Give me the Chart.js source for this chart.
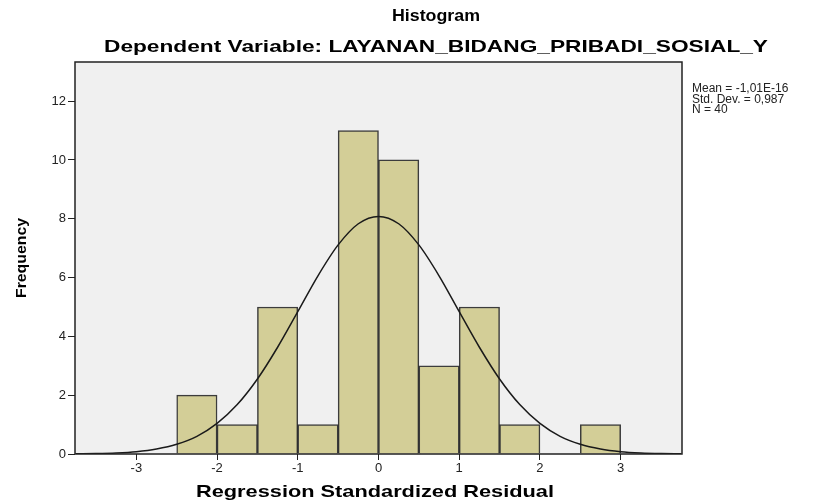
<!DOCTYPE html>
<html>
<head>
<meta charset="utf-8">
<script src="https://cdn.jsdelivr.net/npm/chart.js@4"></script>
<style>
  html, body { margin: 0; padding: 0; background: #fff; }
  #wrap { width: 818px; height: 504px; }
</style>
</head>
<body>
<div id="wrap"><canvas id="hist" width="818" height="504"></canvas></div>
<script>
// data
const binCenters = [-2.25, -1.75, -1.25, -0.75, -0.25, 0.25, 0.75, 1.25, 1.75, 2.25, 2.75];
const frequencies = [2, 1, 5, 1, 11, 10, 3, 5, 1, 0, 1];

// kurva normal (perkiraan dari gambar)
const curveX = [-3.75, -3.5, -3.25, -3, -2.75, -2.5, -2.25, -2, -1.75, -1.5, -1.25, -1, -0.75, -0.5, -0.25,
                0, 0.25, 0.5, 0.75, 1, 1.25, 1.5, 1.75, 2, 2.25, 2.5, 2.75, 3, 3.25, 3.5, 3.75];
const curveY = [0.006, 0.015, 0.036, 0.08, 0.17, 0.33, 0.60, 1.04, 1.68, 2.55, 3.63, 4.84, 6.06, 7.11, 7.83,
                8.08, 7.83, 7.11, 6.06, 4.84, 3.63, 2.55, 1.68, 1.04, 0.60, 0.33, 0.17, 0.08, 0.036, 0.015, 0.006];

const xTicks = [-3, -2, -1, 0, 1, 2, 3];
const yTicks = [0, 2, 4, 6, 8, 10, 12];

const titleText = 'Histogram';
const subTitleText = 'Dependent Variable: LAYANAN_BIDANG_PRIBADI_SOSIAL_Y';
const xTitleText = 'Regression Standardized Residual';
const yTitleText = 'Frequency';
const statLines = ['Mean = -1,01E-16', 'Std. Dev. = 0,987', 'N = 40'];

const FONT = '"Liberation Sans", Arial, sans-serif';

// teks yang agak melebar seperti di gambar asli
function wideText(ctx, text, cx, cy, width) {
    const w = ctx.measureText(text).width;
    ctx.save();
    ctx.translate(cx, cy);
    ctx.scale(width / w, 1);
    ctx.fillText(text, 0, 0);
    ctx.restore();
}

// latar abu-abu + bingkai + teks
const decor = {
    id: 'decor',
    beforeDatasetsDraw(chart) {
        const { ctx, chartArea: a } = chart;
        ctx.save();
        ctx.fillStyle = '#f0f0f0';
        ctx.fillRect(a.left, a.top, a.right - a.left, a.bottom - a.top);
        ctx.restore();
    },
    afterDraw(chart) {
        const { ctx, chartArea: a } = chart;
        ctx.save();
        ctx.strokeStyle = '#222';
        ctx.lineWidth = 1.5;
        ctx.strokeRect(a.left, a.top, a.right - a.left, a.bottom - a.top);

        ctx.fillStyle = '#000';
        ctx.textAlign = 'center';
        ctx.textBaseline = 'middle';
        ctx.font = 'bold 17px ' + FONT;
        wideText(ctx, titleText, 436, 16, 88);
        wideText(ctx, subTitleText, 436, 47, 664);

        ctx.font = 'bold 17px ' + FONT;
        wideText(ctx, xTitleText, 375, 492, 358);

        ctx.save();
        ctx.translate(22, 258);
        ctx.rotate(-Math.PI / 2);
        ctx.font = 'bold 15px ' + FONT;
        wideText(ctx, yTitleText, 0, 0, 80);
        ctx.restore();

        ctx.textAlign = 'left';
        ctx.font = '12px ' + FONT;
        ctx.fillStyle = '#222';
        statLines.forEach((s, i) => ctx.fillText(s, 692, 89 + i * 10.5));
        ctx.restore();
    }
};

new Chart(document.getElementById('hist'), {
    data: {
        datasets: [
            {
                type: 'line',
                data: curveX.map((x, i) => ({ x: x, y: curveY[i] })),
                borderColor: '#1a1a1a',
                borderWidth: 1.5,
                pointRadius: 0,
                cubicInterpolationMode: 'monotone',
                order: 1
            },
            {
                type: 'bar',
                data: binCenters.map((x, i) => ({ x: x, y: frequencies[i] })),
                backgroundColor: 'rgb(211,206,151)',
                borderColor: 'rgba(0,0,0,0.75)',
                borderWidth: 1.5,
                barPercentage: 1,
                categoryPercentage: 1,
                order: 2
            }
        ]
    },
    options: {
        responsive: false,
        animation: false,
        layout: { padding: { left: 0, right: 136, top: 62, bottom: 0 } },
        plugins: {
            legend: { display: false },
            tooltip: { enabled: false }
        },
        scales: {
            x: {
                type: 'linear',
                min: -3.76,
                max: 3.76,
                offset: false,
                afterFit(s) { s.height = 50; },
                afterBuildTicks(s) { s.ticks = xTicks.map(v => ({ value: v })); },
                ticks: {
                    color: '#222',
                    font: { family: FONT, size: 13 },
                    padding: 1
                },
                grid: { offset: false, drawOnChartArea: false, color: '#222', tickLength: 6 },
                border: { display: false }
            },
            y: {
                min: 0,
                max: 13.33,
                afterFit(s) { s.width = 75; },
                afterBuildTicks(s) { s.ticks = yTicks.map(v => ({ value: v })); },
                ticks: {
                    color: '#222',
                    font: { family: FONT, size: 13 },
                    padding: 2
                },
                grid: { drawOnChartArea: false, color: '#222', tickLength: 7 },
                border: { display: false }
            }
        }
    },
    plugins: [decor]
});
</script>
</body>
</html>
